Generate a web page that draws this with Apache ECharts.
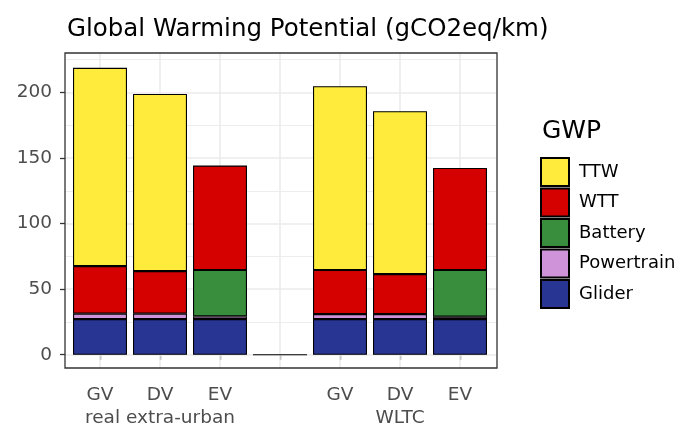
<!DOCTYPE html>
<html>
<head>
<meta charset="utf-8">
<script src="https://cdn.jsdelivr.net/npm/echarts@6/dist/echarts.min.js"></script>
<style>html,body{margin:0;padding:0;background:#fff}#c{width:686px;height:428px}</style>
</head>
<body>
<div id="c"></div>
<script>
// categories (unique keys), shown labels and group labels
var categories = ['GV-real', 'DV-real', 'EV-real', 'gap', 'GV-wltc', 'DV-wltc', 'EV-wltc'];
var tickLabels = ['GV', 'DV', 'EV', '', 'GV', 'DV', 'EV'];
var groupLabels = ['', 'real extra-urban', '', '', '', 'WLTC', ''];
var yTicks = [0, 50, 100, 150, 200];
var yMinor = [25, 75, 125, 175, 225];

// series values (gCO2eq/km), stacked bottom -> top
var glider     = [27.2, 27.2, 27.2, 0,    27.2, 27.2, 27.2];
var powertrain = [4.1,  4.1,  2.0,  null, 3.8,  3.8,  1.8];
var battery    = [null, null, 35.4, null, null, null, 35.6];
var wtt        = [36.3, 32.5, 79.6, null, 33.6, 30.5, 77.8];
var ttw        = [151.1,135.0,null, null, 140.1,124.1,null];

var FONT = 'DejaVu Sans';
var Y_MIN = -10.1, Y_MAX = 230;
var colors = {TTW:'#FFEB3B', WTT:'#D50000', Battery:'#388E3C', Powertrain:'#CE93D8', Glider:'#283593'};

function barSeries(name, data) {
  return {
    name: name, type: 'bar', stack: 'a', data: data,
    barCategoryGap: '10%',
    itemStyle: {color: colors[name], borderColor: '#000', borderWidth: 1.1},
    emphasis: {disabled: true}, z: 3
  };
}

var hLines = [];
yTicks.forEach(function (v) { hLines.push({yAxis: v, lineStyle: {color: '#EBEBEB', width: 1.6, type: 'solid'}}); });
yMinor.forEach(function (v) { hLines.push({yAxis: v, lineStyle: {color: '#EBEBEB', width: 0.9, type: 'solid'}}); });
var vLines = [];
categories.forEach(function (c, i) { vLines.push({xAxis: i, lineStyle: {color: '#EBEBEB', width: 1.6, type: 'solid'}}); });

var chart = echarts.init(document.getElementById('c'), null, {renderer: 'canvas'});
chart.setOption({
  animation: false,
  backgroundColor: '#fff',
  textStyle: {fontFamily: FONT},
  title: [
    {text: 'Global Warming Potential (gCO2eq/km)', left: 62, top: 12,
     textStyle: {fontFamily: FONT, fontSize: 24.5, fontWeight: 'normal', color: '#000'}},
    {text: 'GWP', left: 537, top: 114,
     textStyle: {fontFamily: FONT, fontSize: 25, fontWeight: 'normal', color: '#000'}}
  ],
  legend: {
    orient: 'vertical', left: 540, top: 157, padding: 0,
    data: ['TTW', 'WTT', 'Battery', 'Powertrain', 'Glider'],
    itemWidth: 28, itemHeight: 28, itemGap: 0.5,
    icon: 'rect',
    textStyle: {fontFamily: FONT, fontSize: 18, color: '#000', padding: [0, 0, 0, 5]},
    selectedMode: false
  },
  grid: [
    {left: 70, right: 196, top: 53, bottom: 60, outerBoundsMode: 'none', containLabel: false},
    {left: 65, right: 189, top: 53, bottom: 60, outerBoundsMode: 'none', containLabel: false}
  ],
  graphic: [
    {type: 'rect', shape: {x: 65, y: 53, width: 432, height: 315}, z: 10, silent: true,
     style: {fill: null, stroke: '#333', lineWidth: 1.3}}
  ],
  xAxis: [{
    type: 'category', data: categories, gridIndex: 0,
    axisLine: {show: false},
    axisTick: {show: true, alignWithLabel: true, length: 5, lineStyle: {color: '#333', width: 1.3}},
    axisLabel: {
      interval: 0, margin: 16, fontFamily: FONT, fontSize: 18.5, color: '#4D4D4D', lineHeight: 23,
      formatter: function (v, i) { return groupLabels[i] ? tickLabels[i] + '\n' + groupLabels[i] : tickLabels[i]; }
    },
    splitLine: {show: false}
  }, {
    type: 'value', gridIndex: 1, min: 0, max: 1, show: false
  }],
  yAxis: [{
    type: 'value', min: Y_MIN, max: Y_MAX, offset: 5, gridIndex: 0,
    axisLine: {show: false},
    axisTick: {show: true, length: 5, customValues: yTicks, lineStyle: {color: '#333', width: 1.3}},
    axisLabel: {customValues: yTicks, margin: 13, fontFamily: FONT, fontSize: 18.5, color: '#4D4D4D'},
    splitLine: {show: false}
  }, {
    type: 'value', gridIndex: 1, min: Y_MIN, max: Y_MAX, show: false, splitLine: {show: false}
  }],
  series: [
    {type: 'line', data: [], z: 1, silent: true, xAxisIndex: 1, yAxisIndex: 1,
     markLine: {silent: true, z: 1, symbol: 'none', label: {show: false}, animation: false, data: hLines}},
    {type: 'line', data: [], z: 1, silent: true,
     markLine: {silent: true, z: 1, symbol: 'none', label: {show: false}, animation: false, data: vLines}},
    barSeries('Glider', glider),
    barSeries('Powertrain', powertrain),
    barSeries('Battery', battery),
    barSeries('WTT', wtt),
    barSeries('TTW', ttw)
  ]
});
</script>
</body>
</html>
